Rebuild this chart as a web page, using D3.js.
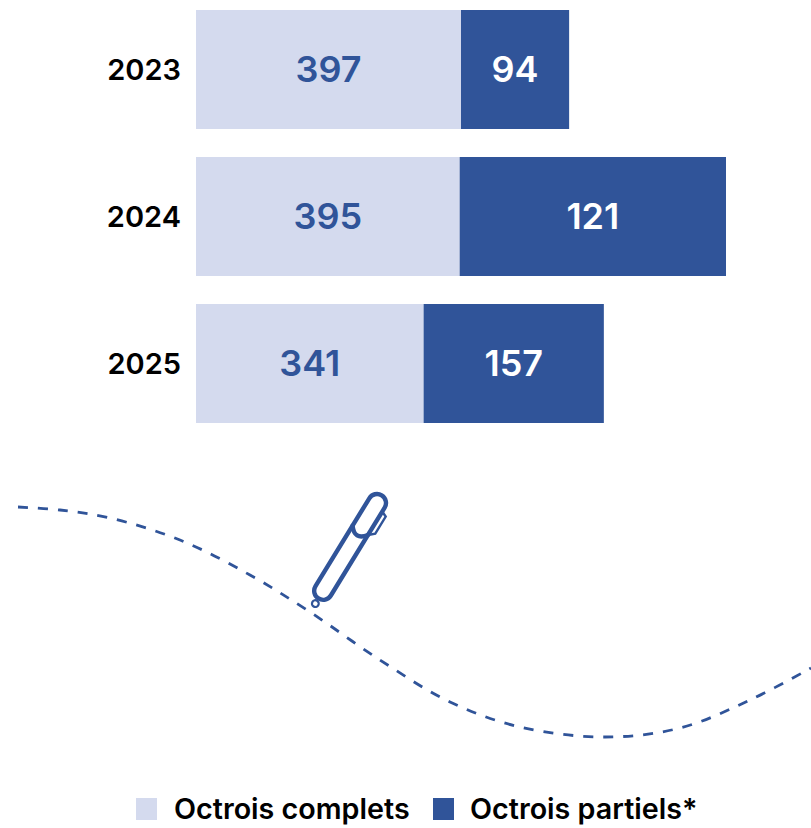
<!DOCTYPE html>
<html><head><meta charset="utf-8">
<script src="https://cdnjs.cloudflare.com/ajax/libs/d3/7.8.5/d3.min.js"></script>
<style>html,body{margin:0;background:#fff}svg{display:block}text{font-family:Inter,sans-serif;font-weight:600}</style>
</head><body><div id="c"></div>
<script>
const years = ["2023","2024","2025"];
const completeValues = [397,395,341];
const partialValues = [94,121,157];
// Lengths of the dark bars as drawn in the picture (not proportional to their labels), in the axis units.
const partialDrawn = [162,399,270];
const legendLabels = ["Octrois complets","Octrois partiels*"];
const curveX = [18,60,110,180,250,310,380,450,520,605,680,750,811];
const curveY = [507,510,518,540,575,612,660,702,727,737,728,700,668];
const LIGHT="#d4daee", DARK="#305499";

const svg=d3.select("#c").append("svg").attr("width",811).attr("height",828);
const x=d3.scaleLinear().domain([0,1000]).range([196,863.5]);
const y=d3.scaleBand().domain(years).range([10,423]).paddingInner(28/147);

years.forEach((yr,i)=>{
  const g=svg.append("g");
  const x1=x(completeValues[i]), x2=x(completeValues[i]+partialDrawn[i]);
  g.append("rect").attr("x",x(0)).attr("y",y(yr)).attr("width",x1-x(0)).attr("height",y.bandwidth()).attr("fill",LIGHT);
  g.append("rect").attr("x",x1).attr("y",y(yr)).attr("width",x2-x1).attr("height",y.bandwidth()).attr("fill",DARK);
  const cy=y(yr)+y.bandwidth()/2;
  g.append("text").attr("x",181).attr("y",cy).attr("dy","0.36em").attr("text-anchor","end").attr("font-size",29).attr("fill","#000").text(yr);
  g.append("text").attr("x",(x(0)+x1)/2).attr("y",cy).attr("dy","0.36em").attr("text-anchor","middle").attr("font-size",36).attr("fill",DARK).text(completeValues[i]);
  g.append("text").attr("x",(x1+x2)/2).attr("y",cy).attr("dy","0.36em").attr("text-anchor","middle").attr("font-size",36).attr("fill","#fff").text(partialValues[i]);
});

const line=d3.line().x(d=>d[0]).y(d=>d[1]).curve(d3.curveCatmullRom);
svg.append("path").attr("d",line(curveX.map((v,i)=>[v,curveY[i]]))).attr("fill","none").attr("stroke",DARK).attr("stroke-width",2.8).attr("stroke-dasharray","10 10");

const pen=svg.append("g").attr("transform","translate(377,503) rotate(31.5)").attr("fill","none").attr("stroke",DARK).attr("stroke-linecap","round");
pen.append("path").attr("stroke-width",4.4).attr("d","M-9,0 A9,9 0 0 1 9,0 L9,103 A9,9 0 0 1 -9,103 Z");
pen.append("path").attr("stroke-width",4.4).attr("d","M-9,32 Q0,44 9,32");
pen.append("path").attr("stroke-width",2.4).attr("d","M10,5 L14.5,7 L14.5,27 L9,32");
pen.append("circle").attr("cx",0).attr("cy",118).attr("r",3.4).attr("stroke-width",2.2);

const lg=[136,433], tx=[174,470];
legendLabels.forEach((t,i)=>{
  svg.append("rect").attr("x",lg[i]).attr("y",798).attr("width",21).attr("height",22).attr("fill",i?DARK:LIGHT);
  svg.append("text").attr("x",tx[i]).attr("y",809).attr("dy","0.36em").attr("font-size",28.7).attr("fill","#000").text(t);
});
</script></body></html>
